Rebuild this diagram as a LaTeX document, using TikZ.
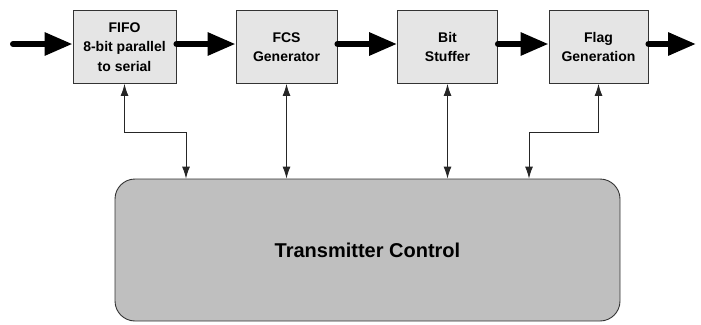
\documentclass[tikz,border=0pt]{standalone}
\usepackage{fontspec}
\setmainfont{Liberation Sans}
\usetikzlibrary{arrows.meta}
\begin{document}
\begin{tikzpicture}[x=1pt,y=-1pt,
  blk/.style={draw=black!80,line width=0.9pt,fill=black!10,minimum height=73pt,inner sep=0pt,align=center,font=\bfseries\fontsize{14}{19.5}\selectfont},
  ctrlbox/.style={draw=black!80,line width=0.9pt,fill=black!25,rounded corners=20pt,minimum width=505pt,minimum height=142pt,font=\bfseries\fontsize{20}{24}\selectfont},
  bus/.style={line width=6pt,line cap=round,-{Triangle[length=28pt,width=22pt]}},
  sig/.style={draw=black!85,line width=0.9pt,{Latex[length=12pt,width=8pt]}-{Latex[length=12pt,width=8pt]}}]
\useasboundingbox (0,0) rectangle (701,324);
\node[blk,minimum width=103pt] (fifo) at (124.5,47) {FIFO\\8-bit parallel\\to serial};
\node[blk,minimum width=101pt] (fcs) at (286.5,47) {FCS\\Generator};
\node[blk,minimum width=100pt] (bit) at (447.5,47) {Bit\\Stuffer};
\node[blk,minimum width=99pt] (flag) at (598.5,47) {Flag\\Generation};
\node[ctrlbox] (ctrl) at (367.5,250) {Transmitter Control};
\coordinate (in) at (13,44);
\coordinate (out) at (696,44);
\draw[bus] (in) -- (fifo.west |- in);
\draw[bus] (fifo.east |- in) -- (fcs.west |- in);
\draw[bus] (fcs.east |- in) -- (bit.west |- in);
\draw[bus] (bit.east |- in) -- (flag.west |- in);
\draw[bus] (flag.east |- in) -- (out);
\coordinate (k1) at (186,132);
\coordinate (k2) at (529,132);
\draw[sig] (fifo.south) |- (k1) -- (k1 |- ctrl.north);
\draw[sig] (fcs.south) -- (fcs.south |- ctrl.north);
\draw[sig] (bit.south) -- (bit.south |- ctrl.north);
\draw[sig] (flag.south) |- (k2) -- (k2 |- ctrl.north);
\end{tikzpicture}
\end{document}
